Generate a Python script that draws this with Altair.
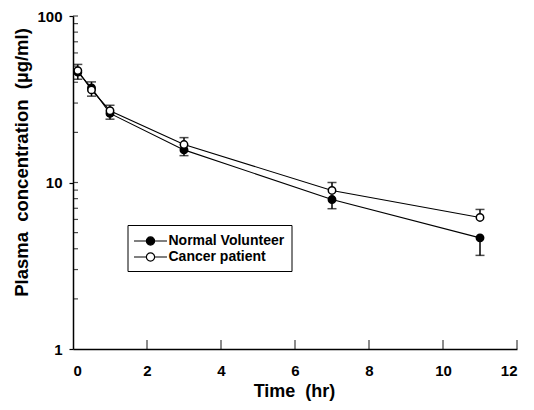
import altair as alt
import pandas as pd

# ---- data ----
times = [0.13, 0.5, 1, 3, 7, 11]
normal_mean = [46, 37, 26, 15.7, 7.9, 4.65]
normal_lower = [41.7, 33.0, 24.0, 14.5, 6.96, 3.65]
cancer_mean = [47, 36, 27, 16.9, 8.96, 6.17]
cancer_upper = [51.2, 40.2, 29.1, 18.6, 10.0, 6.89]
groups = ["Normal Volunteer", "Cancer patient"]

x_major = [0, 2, 4, 6, 8, 10, 12]
y_major = [1, 10, 100]
y_minor = [2, 3, 4, 5, 6, 7, 8, 9, 10, 20, 30, 40, 50, 60, 70, 80, 90, 100]

rows = []
for t, m, lo in zip(times, normal_mean, normal_lower):
    rows.append(dict(t=t, group=groups[0], v=m, lo=lo, hi=m, cap=lo))
for t, m, hi in zip(times, cancer_mean, cancer_upper):
    rows.append(dict(t=t, group=groups[1], v=m, lo=m, hi=hi, cap=hi))
df = pd.DataFrame(rows)

xtick_df = pd.DataFrame({"t": x_major[1:], "v": [1.0] * (len(x_major) - 1)})
ytick_df = pd.DataFrame({"t": [0.0] * len(y_minor), "v": y_minor})

W, H = 444, 333
FONT = "Liberation Sans"

xscale = alt.Scale(domain=[0, 12], nice=False)
yscale = alt.Scale(type="log", domain=[1, 100], nice=False)

xaxis = alt.Axis(values=x_major, ticks=False, labelPadding=14,
                 title="Time\u00a0\u00a0(hr)",
                 titleX=221, titleY=42, titleBaseline="middle")
yaxis = alt.Axis(values=y_major, format="d", tickSize=4, labelPadding=7,
                 title="Plasma\u00a0\u00a0concentration\u00a0\u00a0(\u00b5g/ml)",
                 titleFontSize=18.5,
                 titleX=-52, titleY=146, titleBaseline="middle", titleAngle=270)

X = alt.X("t:Q", scale=xscale, axis=xaxis)
fill_scale = alt.Scale(domain=groups, range=["black", "white"])

lines = alt.Chart(df).mark_line(color="black", strokeWidth=1.1).encode(
    x=X, y=alt.Y("v:Q", scale=yscale, axis=yaxis), detail="group:N")

bars = alt.Chart(df).mark_rule(color="black", strokeWidth=1.5).encode(
    x=X, y=alt.Y("lo:Q", scale=yscale, axis=yaxis), y2="hi:Q")

caps = alt.Chart(df).mark_tick(color="black", orient="horizontal", size=9, thickness=1.5).encode(
    x=X, y=alt.Y("cap:Q", scale=yscale, axis=yaxis))

# inward-pointing axis ticks
xticks_in = alt.Chart(xtick_df).mark_tick(color="black", orient="vertical", size=9,
                                          thickness=1.3, yOffset=-4.5).encode(
    x=X, y=alt.Y("v:Q", scale=yscale, axis=yaxis))
yticks_in = alt.Chart(ytick_df).mark_tick(color="black", orient="horizontal", size=5,
                                          thickness=1.2, xOffset=2.5).encode(
    x=X, y=alt.Y("v:Q", scale=yscale, axis=yaxis))

sym = "M-2,0H-0.5M0.5,0H2M-0.5,0A0.5,0.5,0,1,0,0.5,0A0.5,0.5,0,1,0,-0.5,0Z"

points = alt.Chart(df).mark_point(shape="circle", filled=True, size=55, stroke="black",
                                  strokeWidth=1.5, opacity=1).encode(
    x=X, y=alt.Y("v:Q", scale=yscale, axis=yaxis),
    fill=alt.Fill("group:N", scale=fill_scale, legend=alt.Legend(
        title=None, orient="none", legendX=54.5, legendY=209, direction="vertical",
        symbolType=sym, symbolSize=272, symbolStrokeColor="black", symbolStrokeWidth=1.2,
        symbolOffset=7, labelOffset=9, rowPadding=0, padding=7,
        strokeColor="black", fillColor="white",
        labelFont=FONT, labelFontSize=14, labelFontWeight="bold", labelColor="black")))

chart = alt.layer(lines, bars, caps, xticks_in, yticks_in, points).properties(
    width=W, height=H, autosize=alt.AutoSizeParams(type="none"),
    padding={"left": 65, "top": 8, "right": 9, "bottom": 53}
).configure_view(stroke=None).configure_axis(
    grid=False, domainColor="black", domainWidth=1.5, tickColor="black", tickWidth=1.2,
    labelFont=FONT, labelFontSize=15, labelFontWeight="bold", labelColor="black",
    titleFont=FONT, titleFontSize=18, titleFontWeight="bold", titleColor="black"
)

chart.save("out.html", embed_options={"renderer": "svg", "actions": False})
